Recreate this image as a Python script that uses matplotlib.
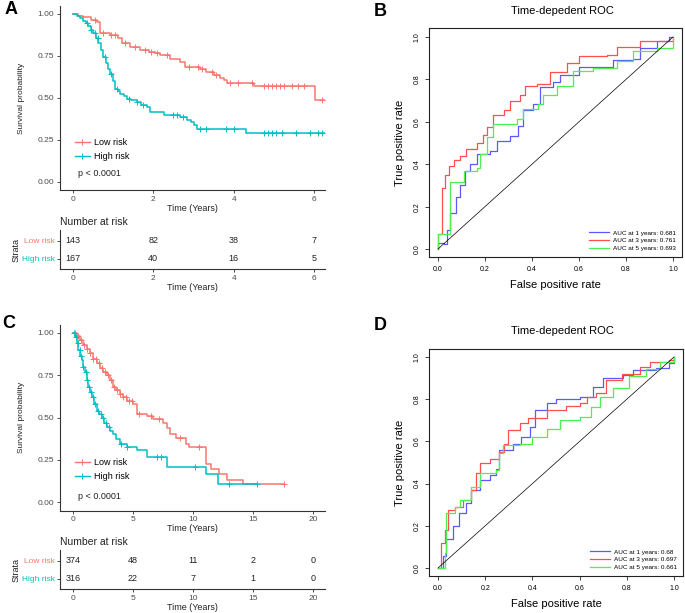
import numpy as np
import matplotlib
matplotlib.use("Agg")
import matplotlib.pyplot as plt
from matplotlib.lines import Line2D

plt.rcParams['font.family'] = ['Liberation Sans', 'DejaVu Sans']

W, H = 685, 613
RED = '#F8766D'
CYAN = '#00BFC4'

# ---- panel A: Kaplan-Meier (training set) ----
a_low_t = [0, 0.12, 0.26, 0.45, 0.6, 0.68, 0.93, 1.13, 1.22, 1.42, 1.68, 1.9, 2.05, 2.17,
           2.42, 2.67, 2.8, 3.17, 3.3, 3.5, 3.65, 3.76, 3.84, 4.5, 6.02]
a_low_s = [1.0, 0.99, 0.98, 0.965, 0.95, 0.885, 0.875, 0.86, 0.825, 0.805, 0.785, 0.775, 0.765,
           0.755, 0.735, 0.715, 0.685, 0.675, 0.655, 0.635, 0.62, 0.605, 0.59, 0.57, 0.49]
a_low_end = 6.3
a_low_cens = [0.55, 0.75, 0.95, 1.05, 1.3, 1.55, 1.8, 1.95, 2.1, 2.35, 2.9, 3.1, 3.2, 3.45,
              3.55, 3.9, 4.1, 4.45, 4.75, 4.85, 4.95, 5.05, 5.15, 5.25, 5.45, 5.6, 5.75, 6.2]
a_high_t = [0, 0.1, 0.17, 0.26, 0.33, 0.38, 0.45, 0.5, 0.57, 0.63, 0.7, 0.76, 0.82, 0.88, 0.93,
            1.0, 1.05, 1.12, 1.18, 1.26, 1.34, 1.45, 1.59, 1.7, 1.84, 1.93, 2.26, 2.67, 2.85,
            2.93, 3.0, 3.09, 4.3]
a_high_s = [1.0, 0.99, 0.975, 0.96, 0.945, 0.93, 0.905, 0.885, 0.86, 0.83, 0.785, 0.745, 0.71,
            0.675, 0.645, 0.6, 0.555, 0.54, 0.525, 0.51, 0.496, 0.486, 0.476, 0.46, 0.446,
            0.416, 0.397, 0.386, 0.37, 0.357, 0.34, 0.317, 0.29]
a_high_end = 6.3
a_high_cens = [0.35, 0.45, 0.55, 0.62, 0.8, 0.95, 1.1, 1.4, 1.6, 1.75, 2.5, 2.6, 2.75, 3.15,
               3.3, 3.8, 4.0, 4.75, 4.85, 4.95, 5.05, 5.2, 5.55, 5.9, 6.1, 6.2]
a_ticks = [0, 2, 4, 6]
a_risk_low = [143, 82, 38, 7]
a_risk_high = [167, 40, 16, 5]

# ---- panel C: Kaplan-Meier (validation set) ----
c_low_t = [0, 0.3, 0.58, 0.85, 1.14, 1.4, 1.69, 2.0, 2.25, 2.5, 2.8, 3.1, 3.36, 3.6, 3.91, 4.2,
           4.47, 5.02, 5.3, 6.13, 6.7, 7.5, 7.8, 8.07, 8.6, 9.46, 9.7, 11.1, 11.5, 12.2, 12.8, 14.2]
c_low_s = [1.0, 0.98, 0.957, 0.93, 0.907, 0.88, 0.848, 0.82, 0.79, 0.77, 0.75, 0.72, 0.68, 0.66,
           0.64, 0.62, 0.60, 0.58, 0.52, 0.51, 0.49, 0.47, 0.44, 0.40, 0.38, 0.345, 0.325,
           0.226, 0.197, 0.167, 0.131, 0.104]
c_low_end = 17.6
c_low_cens = [0.2, 0.45, 0.7, 0.95, 1.2, 1.45, 1.7, 1.95, 2.2, 2.45, 2.7, 2.95, 3.2, 3.45, 3.7,
              3.95, 4.2, 4.45, 4.7, 4.95, 5.5, 6.5, 7.2, 8.9, 10.5, 17.6]
c_high_t = [0, 0.17, 0.3, 0.44, 0.6, 0.72, 0.85, 1.0, 1.15, 1.28, 1.4, 1.55, 1.75, 1.97, 2.2,
            2.39, 2.6, 2.8, 3.1, 3.36, 3.6, 3.91, 4.47, 5.3, 6.13, 7.8, 11.1, 12.1]
c_high_s = [1.0, 0.976, 0.94, 0.897, 0.865, 0.838, 0.80, 0.769, 0.72, 0.68, 0.65, 0.62, 0.58,
            0.54, 0.52, 0.50, 0.47, 0.443, 0.42, 0.404, 0.37, 0.345, 0.325, 0.305, 0.266,
            0.207, 0.167, 0.108]
c_high_end = 15.3
c_high_cens = [0.1, 0.25, 0.4, 0.55, 0.7, 0.85, 1.05, 1.2, 1.35, 1.5, 1.65, 1.85, 2.05, 2.3,
               2.5, 2.75, 3.0, 4.0, 4.5, 7.0, 7.3, 10.2, 13.0, 15.3]
c_ticks = [0, 5, 10, 15, 20]
c_risk_low = [374, 48, 11, 2, 0]
c_risk_high = [316, 22, 7, 1, 0]

# ---- panel B: time-dependent ROC ----
b_1y_fpr = [0, 0, 0.024, 0.04, 0.05, 0.075, 0.095, 0.116, 0.137, 0.165, 0.22, 0.25, 0.307, 0.34,
            0.36, 0.405, 0.434, 0.49, 0.52, 0.60, 0.745, 0.83, 0.86, 0.93, 0.985, 1.0]
b_1y_tpr = [0, 0.03, 0.025, 0.09, 0.17, 0.245, 0.30, 0.37, 0.40, 0.45, 0.46, 0.51, 0.535, 0.58,
            0.655, 0.685, 0.765, 0.79, 0.82, 0.86, 0.89, 0.895, 0.95, 0.98, 1.0, 1.0]
b_3y_fpr = [0, 0, 0.017, 0.03, 0.045, 0.066, 0.095, 0.12, 0.165, 0.19, 0.21, 0.236, 0.28, 0.307,
            0.35, 0.37, 0.42, 0.477, 0.55, 0.60, 0.72, 0.76, 0.86, 0.97, 1.0]
b_3y_tpr = [0, 0.07, 0.29, 0.35, 0.39, 0.42, 0.44, 0.47, 0.50, 0.54, 0.575, 0.63, 0.655, 0.70,
            0.725, 0.77, 0.78, 0.835, 0.875, 0.91, 0.915, 0.955, 0.98, 0.98, 1.0]
b_5y_fpr = [0, 0, 0.052, 0.11, 0.165, 0.18, 0.208, 0.236, 0.335, 0.363, 0.427, 0.448, 0.505,
            0.576, 0.66, 0.76, 0.83, 0.93, 1.0, 1.0]
b_5y_tpr = [0, 0.07, 0.315, 0.37, 0.38, 0.45, 0.53, 0.59, 0.615, 0.66, 0.685, 0.725, 0.77, 0.84,
            0.855, 0.885, 0.935, 0.95, 0.97, 1.0]
b_auc = [0.681, 0.761, 0.693]

# ---- panel D: time-dependent ROC ----
d_1y_fpr = [0, 0.02, 0.035, 0.064, 0.09, 0.12, 0.14, 0.177, 0.22, 0.247, 0.26, 0.318, 0.353,
            0.39, 0.41, 0.46, 0.50, 0.60, 0.657, 0.70, 0.785, 0.826, 0.925, 0.98, 1.0]
d_1y_tpr = [0, 0.055, 0.135, 0.20, 0.26, 0.31, 0.37, 0.417, 0.44, 0.47, 0.56, 0.59, 0.62, 0.67,
            0.75, 0.78, 0.80, 0.81, 0.86, 0.90, 0.915, 0.937, 0.95, 0.97, 1.0]
d_3y_fpr = [0, 0.014, 0.028, 0.042, 0.07, 0.106, 0.14, 0.162, 0.177, 0.22, 0.26, 0.28, 0.297,
            0.346, 0.38, 0.46, 0.544, 0.60, 0.63, 0.67, 0.713, 0.78, 0.855, 0.897, 0.98, 1.0]
d_3y_tpr = [0, 0.12, 0.18, 0.275, 0.29, 0.32, 0.37, 0.45, 0.50, 0.515, 0.55, 0.59, 0.655, 0.685,
            0.71, 0.75, 0.77, 0.78, 0.81, 0.83, 0.89, 0.92, 0.955, 0.976, 0.985, 1.0]
d_5y_fpr = [0, 0.028, 0.032, 0.07, 0.092, 0.14, 0.177, 0.247, 0.26, 0.275, 0.346, 0.40, 0.46,
            0.515, 0.60, 0.65, 0.685, 0.74, 0.81, 0.88, 0.94, 1.0]
d_5y_tpr = [0, 0.07, 0.26, 0.29, 0.32, 0.385, 0.45, 0.465, 0.545, 0.585, 0.59, 0.62, 0.66, 0.70,
            0.715, 0.765, 0.81, 0.855, 0.91, 0.945, 0.975, 1.0]
d_auc = [0.68, 0.697, 0.661]

ROC_COLORS = ['#5A5AFF', '#FF4F4F', '#4FEF4F']
ROC_YEARS = [1, 3, 5]


def px_axes(fig, left, top, right, bottom):
	return fig.add_axes([left / W, 1 - bottom / H, (right - left) / W, (bottom - top) / H])


def km_panel(ax, groups, xlim, ticks, p_xy, leg_xy):
	for t, s, end, cens, col in groups:
		tt = list(t) + [end]
		ss = list(s) + [s[-1]]
		ax.step(tt, ss, where='post', color=col, lw=1.1)
		idx = np.searchsorted(np.array(t), np.array(cens), side='right') - 1
		ax.plot(cens, np.array(s)[idx], ls='none', marker='+', ms=4.5, mew=0.7, color=col)
	ax.set_xlim(*xlim)
	ax.set_ylim(-0.05, 1.05)
	ax.set_xticks(ticks)
	ax.set_yticks([0, 0.25, 0.5, 0.75, 1.0])
	ax.set_yticklabels(['0.00', '0.25', '0.50', '0.75', '1.00'])
	for sp in ['top', 'right']:
		ax.spines[sp].set_visible(False)
	for sp in ['left', 'bottom']:
		ax.spines[sp].set_color('#333333')
		ax.spines[sp].set_linewidth(0.8)
	ax.tick_params(labelsize=6, labelcolor='#4D4D4D', color='#333333', length=2.5, width=0.6, pad=1.5)
	ax.set_xlabel('Time (Years)', fontsize=6.5, color='#222222', labelpad=1)
	ax.set_ylabel('Survival probability', fontsize=6, color='#222222', labelpad=9)
	handles = [Line2D([], [], color=RED, lw=1, marker='+', ms=4.5, mew=0.7),
	           Line2D([], [], color=CYAN, lw=1, marker='+', ms=4.5, mew=0.7)]
	ax.legend(handles, ['Low risk', 'High risk'], loc='center left', bbox_to_anchor=leg_xy,
	          frameon=False, fontsize=6.5, borderpad=0, handlelength=1.6, handletextpad=0.5,
	          labelspacing=0.55, borderaxespad=0)
	ax.text(p_xy[0], p_xy[1], 'p < 0.0001', transform=ax.transAxes, fontsize=6.5,
	        color='#222222', va='center', ha='left')


def risk_table(ax, xlim, ticks, low, high):
	for x, n in zip(ticks, low):
		ax.text(x, 2, str(n), ha='center', va='center', fontsize=6.5, color='#222222')
	for x, n in zip(ticks, high):
		ax.text(x, 1, str(n), ha='center', va='center', fontsize=6.5, color='#222222')
	ax.set_xlim(*xlim)
	ax.set_ylim(0.44, 2.61)
	ax.set_xticks(ticks)
	ax.set_yticks([1, 2])
	ax.set_yticklabels(['High risk', 'Low risk'])
	ax.get_yticklabels()[0].set_color(CYAN)
	ax.get_yticklabels()[1].set_color(RED)
	for sp in ['top', 'right']:
		ax.spines[sp].set_visible(False)
	for sp in ['left', 'bottom']:
		ax.spines[sp].set_color('#333333')
		ax.spines[sp].set_linewidth(0.8)
	ax.tick_params(axis='x', labelsize=6, labelcolor='#4D4D4D', color='#333333', length=2.5, width=0.6, pad=1.5)
	ax.tick_params(axis='y', labelsize=6, color='#333333', length=2.5, width=0.6, pad=1.5)
	ax.set_xlabel('Time (Years)', fontsize=6.5, color='#222222', labelpad=1)
	ax.set_ylabel('Strata', fontsize=6.5, color='#222222', labelpad=1)
	ax.text(0.0, 1.08, 'Number at risk', transform=ax.transAxes, fontsize=7.5,
	        color='#222222', ha='left', va='bottom')


def roc_panel(ax, curves, aucs):
	for (fpr, tpr), col, yr, auc in zip(curves, ROC_COLORS, ROC_YEARS, aucs):
		ax.plot(fpr, tpr, drawstyle='steps-post', color=col, lw=0.9,
		        label='AUC at %d years: %s' % (yr, auc))
	ax.plot([0, 1], [0, 1], color='black', lw=0.5)
	ax.set_xlim(-0.04, 1.04)
	ax.set_ylim(-0.04, 1.04)
	ticks = [0, 0.2, 0.4, 0.6, 0.8, 1.0]
	ax.set_xticks(ticks)
	ax.set_yticks(ticks)
	ax.set_xticklabels(['0.0', '0.2', '0.4', '0.6', '0.8', '1.0'])
	ax.set_yticklabels(['0.0', '0.2', '0.4', '0.6', '0.8', '1.0'], rotation=90, va='center')
	for sp in ax.spines.values():
		sp.set_linewidth(0.8)
		sp.set_color('#222222')
	ax.tick_params(labelsize=5, length=3, width=0.6, pad=3, color='#222222')
	ax.set_xlabel('False positive rate', fontsize=8, labelpad=5)
	ax.set_ylabel('True positive rate', fontsize=8, labelpad=6)
	ax.legend(loc='lower right', frameon=False, fontsize=4.6, handlelength=3.2,
	          handletextpad=0.6, labelspacing=0.35, borderaxespad=0.6)


fig = plt.figure(figsize=(W / 100, H / 100), dpi=100)

# A
axA = px_axes(fig, 60, 5.6, 325, 190.4)
km_panel(axA, [(a_low_t, a_low_s, a_low_end, a_low_cens, RED),
               (a_high_t, a_high_s, a_high_end, a_high_cens, CYAN)],
         (-0.32, 6.27), a_ticks, (0.068, 0.089), (0.057, 0.219))
axAt = px_axes(fig, 60, 230, 325, 269)
risk_table(axAt, (-0.32, 6.27), a_ticks, a_risk_low, a_risk_high)

# C
axC = px_axes(fig, 60, 324.5, 325, 510.5)
km_panel(axC, [(c_low_t, c_low_s, c_low_end, c_low_cens, RED),
               (c_high_t, c_high_s, c_high_end, c_high_cens, CYAN)],
         (-1.08, 21.0), c_ticks, (0.068, 0.073), (0.057, 0.218))
axCt = px_axes(fig, 60, 550, 325, 589)
risk_table(axCt, (-1.08, 21.0), c_ticks, c_risk_low, c_risk_high)

# B
axB = px_axes(fig, 428.6, 28.5, 682.4, 257.5)
roc_panel(axB, [(b_1y_fpr, b_1y_tpr), (b_3y_fpr, b_3y_tpr), (b_5y_fpr, b_5y_tpr)], b_auc)
fig.text(562 / W, 1 - 11 / H, 'Time-depedent ROC', ha='center', va='center', fontsize=8)

# D
axD = px_axes(fig, 428.6, 348.6, 683.4, 576.4)
roc_panel(axD, [(d_1y_fpr, d_1y_tpr), (d_3y_fpr, d_3y_tpr), (d_5y_fpr, d_5y_tpr)], d_auc)
fig.text(562 / W, 1 - 331 / H, 'Time-depedent ROC', ha='center', va='center', fontsize=8)

# panel letters
for lab, x, y in [('A', 11, 10), ('B', 380, 12), ('C', 9, 324), ('D', 380, 325)]:
	fig.text(x / W, 1 - y / H, lab, ha='center', va='center', fontsize=13, fontweight='bold')

fig.savefig('out.png', dpi=100)
